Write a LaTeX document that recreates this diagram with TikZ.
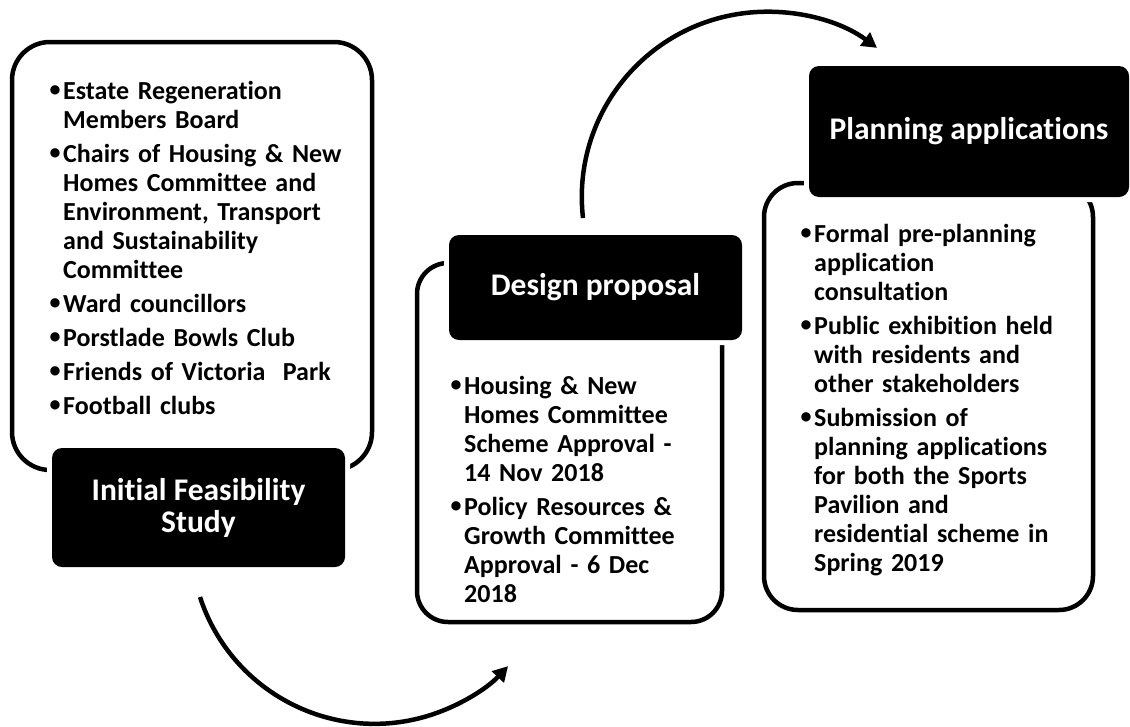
\documentclass[tikz,border=0pt]{standalone}
\usepackage{fontspec}
\setmainfont{Carlito}[Ligatures={NoCommon}]
\usetikzlibrary{arrows.meta}
\newcommand\mybul{\makebox[14pt][l]{\hspace{0.5pt}\raisebox{2.5pt}{\fontsize{22}{22}\selectfont\bfseries •}}}
\newcommand\myind{\hspace*{14pt}}
\begin{document}
\begin{tikzpicture}[x=1pt,y=-1pt,
  wbox/.style={draw=black, line width=4.5pt, fill=white, inner sep=0pt},
  tbox/.style={fill=black, rounded corners=10pt, text=white,
    font=\fontsize{31.5}{32}\selectfont\bfseries, align=center, inner sep=0pt,
    preaction={draw=white, line width=10pt}},
  body/.style={anchor=base west, inner sep=0pt, text width=300pt, align=left,
    font=\fontsize{26}{29}\selectfont\bfseries},
  conn/.style={line width=4.5pt, -{Triangle[length=15pt,width=16pt]}}
]
\useasboundingbox (0,0) rectangle (1130,726);
\fill[white] (0,0) rectangle (1130,726);

% connectors
\coordinate (a1s) at (200,597);
\draw[conn] (a1s) arc[start angle=198, end angle=316.7, radius=183.5pt] coordinate (a1e);
\coordinate (a2s) at (583,218);
\draw[conn] (a2s) arc[start angle=186.5, end angle=53.6, radius=185.3pt] coordinate (a2e);

% white boxes
\node[wbox, minimum width=360pt, minimum height=428pt, rounded corners=38pt] (w1) at (192,256) {};
\node[wbox, minimum width=305pt, minimum height=359pt, rounded corners=31pt] (w2) at (569.5,442.5) {};
\node[wbox, minimum width=329pt, minimum height=427pt, rounded corners=34pt] (w3) at (928.5,396.5) {};

% title boxes
\node[tbox, minimum width=293pt, minimum height=119pt] (t1) at (198.5,507.5) {Initial Feasibility\\Study};
\node[tbox, minimum width=293pt, minimum height=105pt] (t2) at (595.5,287.5) {Design proposal};
\node[tbox, minimum width=320pt, minimum height=131pt] (t3) at (969,131.5) {Planning applications};

% body texts
\node[body] (x1) at (49,99) {\mybul Estate Regeneration\\\myind Members Board\\[5pt]
\mybul Chairs of Housing \& New\\\myind Homes Committee and\\\myind Environment, Transport\\\myind and Sustainability\\\myind Committee\\[5pt]
\mybul Ward councillors\\[5pt]
\mybul Porstlade Bowls Club\\[5pt]
\mybul Friends of Victoria\ \ Park\\[5pt]
\mybul Football clubs};

\node[body] (x2) at (450,394) {\mybul Housing \& New\\\myind Homes Committee\\\myind Scheme Approval -\\\myind 14 Nov 2018\\[5pt]
\mybul Policy Resources \&\\\myind Growth Committee\\\myind Approval - 6 Dec\\\myind 2018};

\node[body] (x3) at (800,242) {\mybul Formal pre-planning\\\myind application\\\myind consultation\\[5pt]
\mybul Public exhibition held\\\myind with residents and\\\myind other stakeholders\\[5pt]
\mybul Submission of\\\myind planning applications\\\myind for both the Sports\\\myind Pavilion and\\\myind residential scheme in\\\myind Spring 2019};
\end{tikzpicture}
\end{document}
